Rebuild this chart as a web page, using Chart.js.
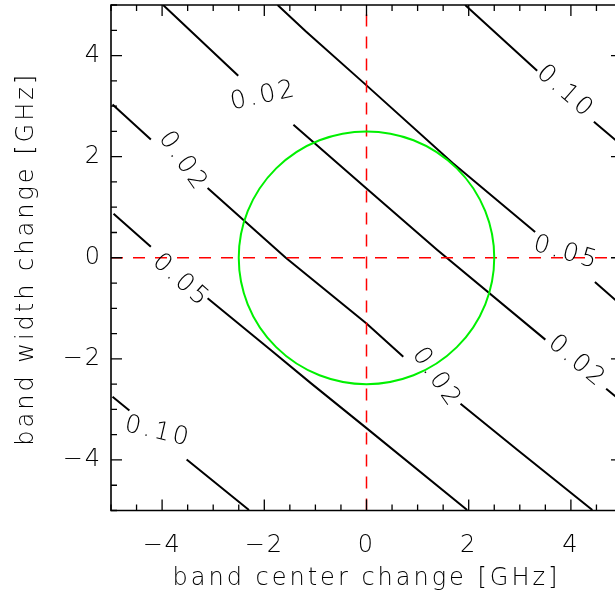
<!DOCTYPE html>
<html>
<head>
<meta charset="utf-8">
<script src="https://cdn.jsdelivr.net/npm/chart.js@4/dist/chart.umd.min.js"></script>
<style>
  html, body { margin: 0; padding: 0; background: #fff; overflow: hidden; }
  #wrap { width: 615px; height: 595px; overflow: hidden; }
</style>
</head>
<body>
<div id="wrap"><canvas id="contours" width="640" height="595"></canvas></div>
<script>
// axis range and tick labels
const axisMin = -5;
const axisMax = 5;
const majorTicks = [-4, -2, 0, 2, 4];
const minorStep = 0.5;

// contour levels, one per traced line (upper right to lower left)
const contourLevels = [0.10, 0.05, 0.02, 0.02, 0.05, 0.10];

// traced contour points [band center, band width]; null breaks the line where a label sits
const contourUpper010 = [[1.93, 5.0], [3.34, 3.70], null, [4.45, 2.69], [5.0, 2.22]];
const contourUpper005 = [[-1.74, 5.0], [-1.19, 4.48], [0, 3.41], [1.68, 1.88], [3.30, 0.51], null, [4.47, -0.48], [5.0, -0.95]];
const contourUpper002 = [[-3.98, 5.0], [-2.51, 3.60], null, [-1.43, 2.63], [0, 1.37], [1.38, 0.16], [3.50, -1.62], null, [4.69, -2.59], [5.0, -2.85]];
const contourLower002 = [[-4.97, 3.03], [-4.22, 2.34], null, [-3.11, 1.38], [-1.58, 0.0], [0, -1.30], [0.72, -1.96], null, [1.84, -2.89], [2.95, -3.80], [4.42, -4.99]];
const contourLower005 = [[-4.95, 0.87], [-4.22, 0.22], null, [-3.11, -0.80], [-1.88, -1.82], [-1.09, -2.48], [0, -3.37], [1.97, -4.99]];
const contourLower010 = [[-4.97, -2.75], [-4.64, -3.02], null, [-3.52, -3.99], [-2.30, -4.99]];
const contourLines = [contourUpper010, contourUpper005, contourUpper002, contourLower002, contourLower005, contourLower010];

// inline contour labels: which line, and where along it
const labelLine = [0, 1, 2, 2, 3, 3, 4, 5];
const labelX = [3.89, 3.91, -2.01, 4.12, -3.59, 1.37, -3.63, -4.08];
const labelY = [3.28, 0.09, 3.20, -2.06, 1.90, -2.38, -0.46, -3.45];
const labelAngle = [41, 16, -12, 40, 55, 55, 42, 13];

// zero-change reference lines and the 2.5 GHz tolerance circle
const zeroCross = [[[0, -5], [0, 5]], [[-5, 0], [5, 0]]];
const circleCenter = [0, 0];
const circleRadius = 2.5;

const FONT = "'DejaVu Sans', 'Liberation Sans', sans-serif";

const toXY = pts => pts.map(p => p ? { x: p[0], y: p[1] } : { x: null, y: null });

const datasets = [];
zeroCross.forEach(seg => datasets.push({
  data: toXY(seg),
  showLine: true,
  borderColor: '#ff0000',
  borderWidth: 1.5,
  borderDash: [12, 10],
  pointRadius: 0
}));
contourLines.forEach((line, i) => datasets.push({
  label: contourLevels[i].toFixed(2),
  data: toXY(line),
  showLine: true,
  spanGaps: false,
  borderColor: '#000',
  borderWidth: 2,
  pointRadius: 0
}));

const fmtTick = v => v < 0 ? '\u2212' + Math.abs(v) : String(v);

const plotExtras = {
  id: 'plotExtras',
  beforeDraw(chart) {
    const ctx = chart.ctx;
    ctx.save();
    ctx.fillStyle = '#fff';
    ctx.fillRect(0, 0, chart.width, chart.height);
    ctx.restore();
    ctx.letterSpacing = '2px';
  },
  afterDatasetsDraw(chart) {
    const { ctx, scales: { x, y } } = chart;
    // tolerance circle
    const cx = x.getPixelForValue(circleCenter[0]);
    const cy = y.getPixelForValue(circleCenter[1]);
    const rx = x.getPixelForValue(circleCenter[0] + circleRadius) - cx;
    const ry = cy - y.getPixelForValue(circleCenter[1] + circleRadius);
    ctx.save();
    ctx.strokeStyle = '#00f000';
    ctx.lineWidth = 2;
    ctx.beginPath();
    ctx.ellipse(cx, cy, rx, ry, 0, 0, Math.PI * 2);
    ctx.stroke();

    // contour labels
    ctx.fillStyle = '#000';
    ctx.font = '200 25px ' + FONT;
    ctx.letterSpacing = '3px';
    ctx.textAlign = 'center';
    ctx.textBaseline = 'middle';
    labelLine.forEach((li, k) => {
      ctx.save();
      ctx.translate(x.getPixelForValue(labelX[k]), y.getPixelForValue(labelY[k]));
      ctx.rotate(labelAngle[k] * Math.PI / 180);
      ctx.fillText(contourLevels[li].toFixed(2), 0, 0);
      ctx.restore();
    });
    ctx.restore();
  },
  afterDraw(chart) {
    const { ctx, chartArea: a, scales: { x, y } } = chart;
    ctx.save();
    ctx.strokeStyle = '#000';
    ctx.lineWidth = 1.6;
    ctx.beginPath();
    ctx.moveTo(a.left, a.top);
    ctx.lineTo(a.left, a.bottom);
    ctx.lineTo(a.right, a.bottom);
    ctx.lineTo(a.right, a.top);
    ctx.closePath();
    ctx.stroke();

    // inward tick marks on all four sides
    ctx.lineWidth = 1.3;
    ctx.beginPath();
    for (let v = axisMin; v <= axisMax + 1e-9; v += minorStep) {
      const len = majorTicks.includes(v) ? 11 : 6;
      const px = x.getPixelForValue(v);
      const py = y.getPixelForValue(v);
      ctx.moveTo(px, a.bottom); ctx.lineTo(px, a.bottom - len);
      ctx.moveTo(px, a.top); ctx.lineTo(px, a.top + len);
      ctx.moveTo(a.left, py); ctx.lineTo(a.left + len, py);
      ctx.moveTo(a.right, py); ctx.lineTo(a.right - len, py);
    }
    ctx.stroke();

    // axis titles
    ctx.fillStyle = '#000';
    ctx.font = '200 24px ' + FONT;
    ctx.letterSpacing = '3px';
    ctx.textAlign = 'center';
    ctx.textBaseline = 'middle';
    ctx.fillText('band center change [GHz]', (a.left + a.right) / 2, 579);
    ctx.translate(27, (a.top + a.bottom) / 2 + 1);
    ctx.rotate(-Math.PI / 2);
    ctx.fillText('band width change [GHz]', 0, 0);
    ctx.restore();
  }
};

const tickFont = { family: FONT, size: 24, weight: '200' };

new Chart(document.getElementById('contours'), {
  type: 'scatter',
  data: { datasets },
  options: {
    responsive: false,
    animation: false,
    layout: { padding: { top: 5, right: 18, left: 0, bottom: 0 } },
    plugins: { legend: { display: false }, tooltip: { enabled: false } },
    scales: {
      x: {
        type: 'linear', min: axisMin, max: axisMax,
        afterBuildTicks: s => { s.ticks = majorTicks.map(v => ({ value: v })); },
        afterFit: s => { s.height = 84.5; s.paddingLeft = 0; s.paddingRight = 0; },
        grid: { display: false, drawTicks: false },
        border: { display: false },
        ticks: { callback: fmtTick, color: '#000', font: tickFont, padding: 21, maxRotation: 0 }
      },
      y: {
        type: 'linear', min: axisMin, max: axisMax,
        afterBuildTicks: s => { s.ticks = majorTicks.map(v => ({ value: v })); },
        afterFit: s => { s.width = 111; s.paddingTop = 0; s.paddingBottom = 0; },
        grid: { display: false, drawTicks: false },
        border: { display: false },
        ticks: { callback: fmtTick, color: '#000', font: tickFont, padding: 9 }
      }
    }
  },
  plugins: [plotExtras]
});
</script>
</body>
</html>
